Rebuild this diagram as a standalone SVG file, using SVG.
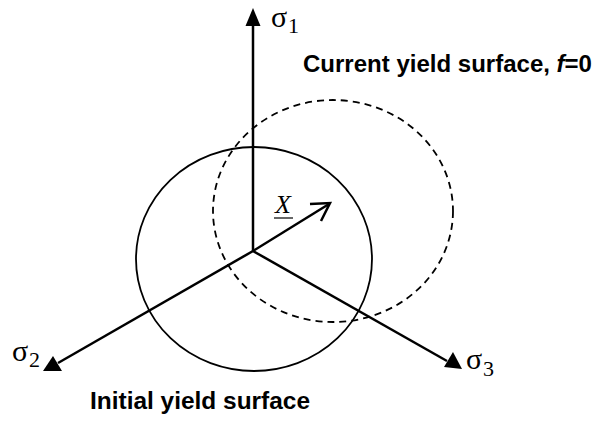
<svg xmlns="http://www.w3.org/2000/svg" width="598" height="421" viewBox="0 0 598 421">
<style>
.ax{stroke:#000;stroke-width:2.5;fill:none}
.head{fill:#000}
.sig{font-family:"Liberation Serif",serif;fill:#000}
.lbl{font-family:"Liberation Sans",Arial,sans-serif;font-weight:bold;font-size:23px;fill:#000}
</style>
<rect width="598" height="421" fill="#fff"/>
<g id="initial-surface">
<ellipse cx="254" cy="259" rx="118" ry="112" fill="none" stroke="#000" stroke-width="1.8"/>
</g>
<g id="current-surface">
<ellipse cx="333" cy="211" rx="120" ry="111" fill="none" stroke="#000" stroke-width="1.8" stroke-dasharray="7,5"/>
</g>
<g id="connectors">
<line class="ax" x1="253" y1="251" x2="253" y2="24"/>
<polygon class="head" points="253,8 245.5,26 260.5,26"/>
<line class="ax" x1="253" y1="251" x2="58" y2="363"/>
<polygon class="head" points="43,371 53,356 62,371"/>
<line class="ax" x1="253" y1="251" x2="447" y2="361"/>
<polygon class="head" points="462,369 453,352 444,367"/>
<line class="ax" x1="253" y1="251" x2="329" y2="204"/>
<polyline class="ax" points="310,204 330,203 321,221"/>
</g>
<g id="sigma1">
<text class="sig" x="271" y="27" font-size="30">σ</text>
<text class="sig" x="288" y="33" font-size="22">1</text>
</g>
<g id="sigma2">
<text class="sig" x="12" y="361" font-size="30">σ</text>
<text class="sig" x="29" y="367" font-size="22">2</text>
</g>
<g id="sigma3">
<text class="sig" x="466" y="369" font-size="30">σ</text>
<text class="sig" x="483" y="376" font-size="22">3</text>
</g>
<g id="X-label">
<text class="sig" x="275" y="213" font-size="26" font-style="italic">X</text>
<line x1="274" y1="218" x2="293" y2="218" stroke="#000" stroke-width="1.2"/>
</g>
<g id="current-label">
<text class="lbl" x="303" y="72" textLength="289" lengthAdjust="spacingAndGlyphs">Current yield surface, <tspan font-style="italic">f</tspan>=0</text>
</g>
<g id="initial-label">
<text class="lbl" x="90" y="409" textLength="220" lengthAdjust="spacingAndGlyphs">Initial yield surface</text>
</g>
</svg>
